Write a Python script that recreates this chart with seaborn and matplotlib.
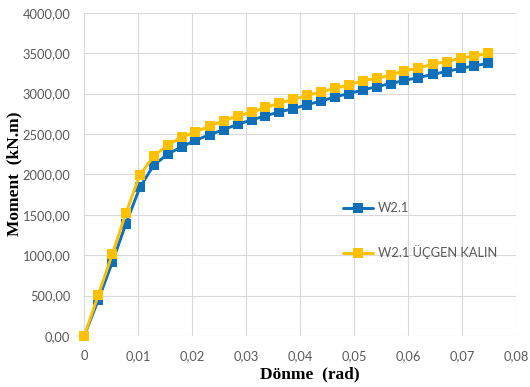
import matplotlib
matplotlib.use("Agg")
import matplotlib.pyplot as plt
import matplotlib.ticker as mticker
import numpy as np
import pandas as pd
import seaborn as sns

# Rotation steps (rad)
rotation = [0.0, 0.0026, 0.0052, 0.0077, 0.0103, 0.0129, 0.0155, 0.0181,
            0.0206, 0.0232, 0.0258, 0.0284, 0.0310, 0.0335, 0.0361, 0.0387,
            0.0413, 0.0439, 0.0464, 0.0490, 0.0516, 0.0542, 0.0568, 0.0593,
            0.0619, 0.0645, 0.0671, 0.0697, 0.0722, 0.0748]

# Moment (kN.m)
moment_w21 = [0, 446, 912, 1386, 1840, 2116, 2252, 2343, 2420, 2491,
              2553, 2620, 2673, 2723, 2772, 2813, 2863, 2908, 2958, 3000,
              3045, 3086, 3123, 3164, 3197, 3239, 3271, 3313, 3342, 3375]
moment_w21_ucgen = [0, 507, 1015, 1519, 1993, 2228, 2364, 2459, 2528, 2595,
                    2663, 2723, 2768, 2828, 2880, 2929, 2978, 3020, 3066, 3106,
                    3160, 3189, 3230, 3284, 3313, 3366, 3395, 3437, 3465, 3499]

series_names = ["W2.1", "W2.1 ÜÇGEN KALIN"]
series_colors = ["#0F6FB8", "#FFC000"]

x_ticks = [0, 0.01, 0.02, 0.03, 0.04, 0.05, 0.06, 0.07, 0.08]
y_ticks = [0, 500, 1000, 1500, 2000, 2500, 3000, 3500, 4000]

df = pd.DataFrame({
    "Dönme": rotation * 2,
    "Moment": moment_w21 + moment_w21_ucgen,
    "Seri": [series_names[0]] * len(rotation) + [series_names[1]] * len(rotation),
})

sns.set_theme(style="whitegrid")
plt.rcParams["font.family"] = ["Lato", "DejaVu Sans"]

fig = plt.figure(figsize=(5.30, 3.87), dpi=100)
ax = fig.add_axes([0.159, 0.132, 0.815, 0.835])

sns.lineplot(data=df, x="Dönme", y="Moment", hue="Seri",
             hue_order=series_names, palette=series_colors,
             estimator=None, sort=False, marker="s", markersize=7.2,
             markeredgewidth=0, linewidth=2.1, clip_on=False, ax=ax)

ax.set_xlim(0, 0.08)
ax.set_ylim(0, 4000)
ax.set_xticks(x_ticks)
ax.set_yticks(y_ticks)


def comma_x(v, pos):
    if v == 0:
        return "0"
    return f"{v:.2f}".replace(".", ",")


def comma_y(v, pos):
    return f"{v:.2f}".replace(".", ",")


ax.xaxis.set_major_formatter(mticker.FuncFormatter(comma_x))
ax.yaxis.set_major_formatter(mticker.FuncFormatter(comma_y))

ax.grid(True, color="#D9D9D9", linewidth=0.8)
ax.set_axisbelow(True)
for s in ax.spines.values():
    s.set_visible(False)
ax.tick_params(axis="both", length=0, labelsize=9.3, labelcolor="#595959")
ax.tick_params(axis="x", pad=10)
ax.tick_params(axis="y", pad=10)

label_font = dict(family=["Liberation Serif", "DejaVu Serif"],
                  fontweight="bold", fontsize=12.5, color="black")
ax.set_xlabel("Dönme  (rad)", va="center", **label_font)
ax.xaxis.set_label_coords(0.523, -0.118)
ax.set_ylabel("Moment  (kN.m)", va="center", **label_font)
ax.yaxis.set_label_coords(-0.161, 0.501)

leg = ax.legend(loc="upper left", bbox_to_anchor=(0.600, 0.414),
                frameon=False, fontsize=9.3, handlelength=2.3,
                handletextpad=0.35, labelspacing=2.4,
                borderpad=0, borderaxespad=0)
for t in leg.get_texts():
    t.set_color("#595959")

fig.savefig("out.png", dpi=100)
